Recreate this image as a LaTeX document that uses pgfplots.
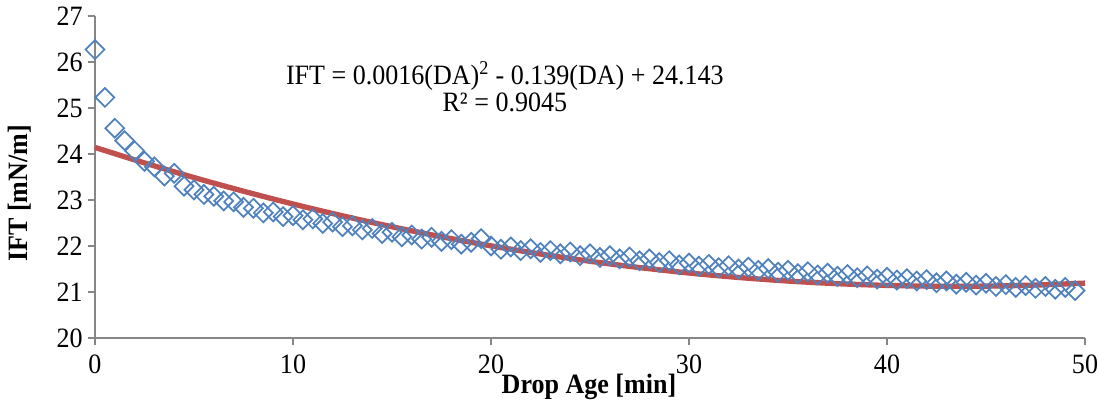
\documentclass[border=0pt]{standalone}
\usepackage{fontspec}
\setmainfont{Liberation Serif}[FakeStretch=0.93]
\usepackage{pgfplots}
\pgfplotsset{compat=1.18}

\definecolor{ptblue}{RGB}{79,129,189}
\definecolor{fitred}{RGB}{192,80,77}
\definecolor{axgray}{RGB}{134,134,134}

% drop age [min] vs IFT [mN/m]
\pgfplotstableread{
x y
0 26.27
0.5 25.23
1 24.56
1.5 24.29
2 24.07
2.5 23.84
3 23.72
3.5 23.52
4 23.58
4.5 23.30
5 23.22
5.5 23.12
6 23.08
6.5 22.98
7 22.96
7.5 22.84
8 22.82
8.5 22.72
9 22.74
9.5 22.64
10 22.66
10.5 22.57
11 22.59
11.5 22.49
12 22.52
12.5 22.42
13 22.44
13.5 22.35
14 22.38
14.5 22.27
15 22.30
15.5 22.20
16 22.24
16.5 22.15
17 22.19
17.5 22.10
18 22.14
18.5 22.04
19 22.08
19.5 22.16
20 22.00
20.5 21.93
21 21.98
21.5 21.90
22 21.94
22.5 21.86
23 21.90
23.5 21.83
24 21.87
24.5 21.79
25 21.83
25.5 21.75
26 21.79
26.5 21.72
27 21.76
27.5 21.68
28 21.72
28.5 21.64
29 21.68
29.5 21.59
30 21.63
30.5 21.56
31 21.60
31.5 21.53
32 21.57
32.5 21.50
33 21.54
33.5 21.47
34 21.51
34.5 21.43
35 21.47
35.5 21.40
36 21.44
36.5 21.37
37 21.41
37.5 21.34
38 21.38
38.5 21.31
39 21.35
39.5 21.28
40 21.32
40.5 21.26
41 21.29
41.5 21.24
42 21.27
42.5 21.20
43 21.24
43.5 21.17
44 21.21
44.5 21.15
45 21.19
45.5 21.12
46 21.16
46.5 21.10
47 21.14
47.5 21.08
48 21.12
48.5 21.06
49 21.10
49.5 21.03
}\iftdata

% polynomial trendline, values of the printed fit
\pgfplotstableread{
x y
0 24.143
2.5 23.806
5 23.488
7.5 23.191
10 22.913
12.5 22.656
15 22.418
17.5 22.201
20 22.003
22.5 21.826
25 21.668
27.5 21.531
30 21.413
32.5 21.316
35 21.238
37.5 21.181
40 21.143
42.5 21.126
45 21.128
47.5 21.151
50 21.193
}\fitdata

\begin{document}
\fontsize{21}{25}\selectfont
\begin{tikzpicture}
\begin{axis}[
    name=ax,
    scale only axis,
    width=742.5pt, height=241.5pt,
    xmin=0, xmax=50, ymin=20, ymax=27,
    xtick={0,10,...,50},
    ytick={20,21,...,27},
    minor tick num=0,
    axis x line*=bottom, axis y line*=left,
    axis line style={axgray, line width=1.4pt},
    tick style={axgray, line width=1.4pt},
    tick align=outside,
    major tick length=5.25pt,
    /pgf/number format/assume math mode=true,
    xticklabel style={anchor=north, inner sep=0pt, yshift=-7.5pt},
    yticklabel style={anchor=east, inner sep=0pt, xshift=-3.75pt},
    xlabel={\textbf{Drop Age [min]}},
    ylabel={\textbf{IFT [mN/m]}},
    xlabel style={at={(axis description cs:0.499,-0.171)}, anchor=base},
    ylabel style={at={(axis description cs:-0.0677,0.449)}, anchor=base},
    clip=false,
  ]
  \addplot[only marks, mark=square, mark size=5pt,
           mark options={rotate=45, draw=ptblue, line width=1.3pt, fill=none}]
    table[x=x, y=y] {\iftdata};
  \addplot[no marks, fitred, line width=4pt, smooth]
    table[x=x, y=y] {\fitdata};
  \node[anchor=base] at (axis cs:20.7,25.5)
    {IFT = 0.0016(DA)\textsuperscript{2} - 0.139(DA) + 24.143};
  \node[anchor=base] at (axis cs:20.7,24.93) {R² = 0.9045};
  \coordinate (bl) at (rel axis cs:0,0);
  \coordinate (tr) at (rel axis cs:1,1);
\end{axis}
\pgfresetboundingbox
\path (bl) ++(-71.25pt,-47.25pt) coordinate (a);
\path (tr) ++(9.75pt,12pt) coordinate (b);
\path (a) rectangle (b);
\end{tikzpicture}
\end{document}
